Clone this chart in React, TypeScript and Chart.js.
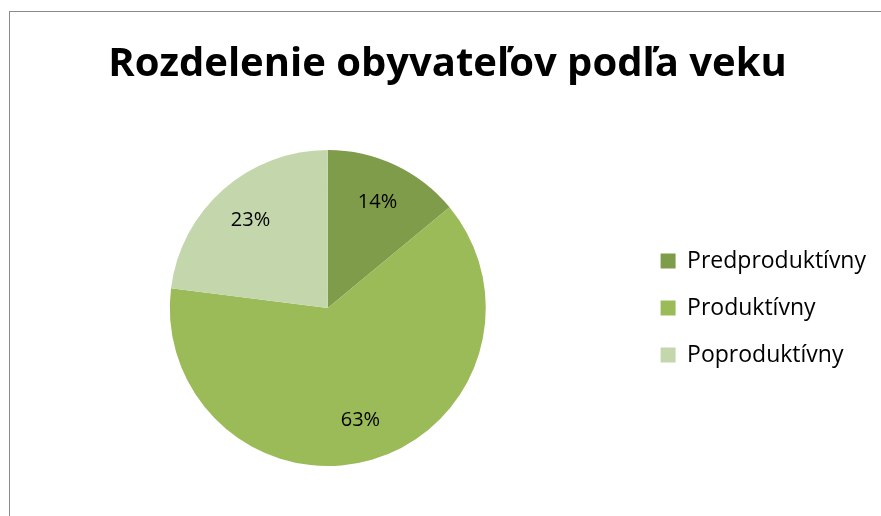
import React, { useEffect, useRef } from "react";
import { Chart, registerables } from "chart.js";

Chart.register(...registerables);

const title = "Rozdelenie obyvateľov podľa veku";
const categories = ["Predproduktívny", "Produktívny", "Poproduktívny"];
const values = [14, 63, 23];
const colors = ["#7F9C4A", "#9BBB59", "#C4D6AB"];

const FONT = "'Open Sans', 'Noto Sans', sans-serif";

const pieLabels = {
  id: "pieLabels",
  afterDatasetsDraw(chart: any) {
    const meta = chart.getDatasetMeta(0);
    const ds = chart.data.datasets[0].data as number[];
    const total = ds.reduce((a, b) => a + b, 0);
    const ctx = chart.ctx;
    ctx.save();
    ctx.font = `20px ${FONT}`;
    ctx.fillStyle = "#000";
    ctx.textAlign = "center";
    ctx.textBaseline = "middle";
    meta.data.forEach((arc: any, i: number) => {
      const p = arc.getProps(["x", "y", "startAngle", "endAngle", "outerRadius"], true);
      const mid = (p.startAngle + p.endAngle) / 2;
      const r = p.outerRadius * 0.74;
      const pct = Math.round((ds[i] / total) * 100) + "%";
      ctx.fillText(pct, p.x + Math.cos(mid) * r, p.y + Math.sin(mid) * r);
    });
    ctx.restore();
  },
};

export default function App() {
  const ref = useRef<HTMLCanvasElement>(null);
  useEffect(() => {
    if (!ref.current) return;
    const chart = new Chart(ref.current, {
      type: "pie",
      data: {
        labels: categories,
        datasets: [
          {
            data: values,
            backgroundColor: colors,
            borderWidth: 0,
          },
        ],
      },
      options: {
        animation: false,
        responsive: false,
        maintainAspectRatio: false,
        layout: { padding: { left: 9, right: 5, top: 0, bottom: 50 } },
        plugins: {
          title: {
            display: true,
            text: title,
            color: "#000",
            font: { family: FONT, size: 40, weight: "bold", lineHeight: 1.2 },
            padding: { top: 29, bottom: 61 },
          },
          legend: {
            position: "right",
            fullSize: false,
            labels: {
              boxWidth: 15,
              boxHeight: 15,
              padding: 24,
              color: "#000",
              font: { family: FONT, size: 23, lineHeight: 1.2 },
            },
          },
          tooltip: { enabled: false },
        },
      },
      plugins: [pieLabels],
    });
    return () => chart.destroy();
  }, []);
  return (
    <div
      style={{
        position: "absolute",
        left: 9,
        top: 11,
        width: 872,
        height: 505,
        borderLeft: "1px solid #8a8a8a",
        borderTop: "1px solid #8a8a8a",
        background: "#fff",
      }}
    >
      <canvas ref={ref} width={871} height={504} style={{ display: "block" }} />
    </div>
  );
}
